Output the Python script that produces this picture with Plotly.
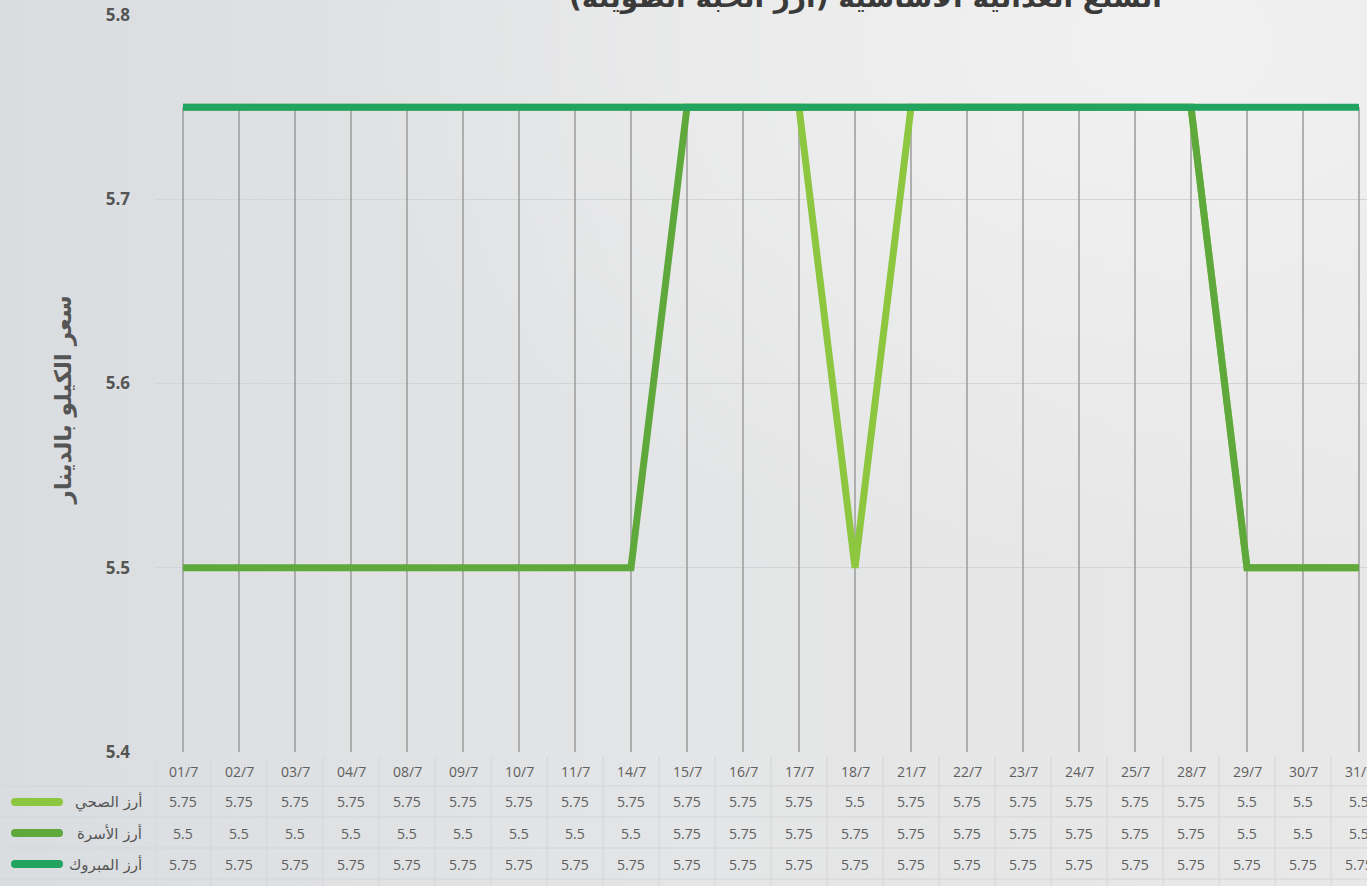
import base64
import plotly.graph_objects as go

dates = ["01/7", "02/7", "03/7", "04/7", "08/7", "09/7", "10/7", "11/7", "14/7", "15/7", "16/7",
         "17/7", "18/7", "21/7", "22/7", "23/7", "24/7", "25/7", "28/7", "29/7", "30/7", "31/7"]
sahi = [5.75, 5.75, 5.75, 5.75, 5.75, 5.75, 5.75, 5.75, 5.75, 5.75, 5.75,
        5.75, 5.5, 5.75, 5.75, 5.75, 5.75, 5.75, 5.75, 5.5, 5.5, 5.5]
usra = [5.5, 5.5, 5.5, 5.5, 5.5, 5.5, 5.5, 5.5, 5.5, 5.75, 5.75,
        5.75, 5.75, 5.75, 5.75, 5.75, 5.75, 5.75, 5.75, 5.5, 5.5, 5.5]
mabrook = [5.75, 5.75, 5.75, 5.75, 5.75, 5.75, 5.75, 5.75, 5.75, 5.75, 5.75,
           5.75, 5.75, 5.75, 5.75, 5.75, 5.75, 5.75, 5.75, 5.75, 5.75, 5.75]
series_names = ["أرز الصحي", "أرز الأسرة", "أرز المبروك"]
series_colors = ["#8dc63f", "#5ea83c", "#22a35f"]
title_text = "السلع الغذائية الأساسية (أرز الحبة الطويلة)"
y_title = "سعر الكيلو بالدينار"
y_ticks = [5.4, 5.5, 5.6, 5.7, 5.8]

series = [sahi, usra, mabrook]
n = len(dates)
xs = list(range(n))

W, H = 1367, 886
mt, mb, ml, mr = 15, 134, 155, 0
ph = H - mt - mb
step = 56.0
x_max = -0.5 + (W - ml - mr) / step

def py2paper(py):
    return (H - mb - py) / ph

def px2paper(px):
    return (px - ml) / (W - ml - mr)

fig = go.Figure()

# background gradient
svg = ('<svg xmlns="http://www.w3.org/2000/svg" width="1367" height="886">'
       '<defs><linearGradient id="g" x1="0" y1="0" x2="1" y2="0">'
       '<stop offset="0" stop-color="#dadde0"/><stop offset="0.5" stop-color="#e4e5e6"/>'
       '<stop offset="1" stop-color="#e8e8e8"/></linearGradient>'
       '<radialGradient id="r" cx="0.85" cy="0.05" r="0.6">'
       '<stop offset="0" stop-color="#f3f3f3" stop-opacity="0.85"/>'
       '<stop offset="1" stop-color="#f3f3f3" stop-opacity="0"/></radialGradient></defs>'
       '<rect width="1367" height="886" fill="url(#g)"/>'
       '<rect width="1367" height="886" fill="url(#r)"/></svg>')
bg_src = "data:image/svg+xml;base64," + base64.b64encode(svg.encode()).decode()

# drop lines
dx, dy = [], []
for i in xs:
    top = max(s[i] for s in series)
    dx += [i, i, None]
    dy += [5.4, top, None]
fig.add_trace(go.Scatter(x=dx, y=dy, mode="lines", line=dict(color="#9b9b9b", width=1.5),
                         hoverinfo="skip", showlegend=False, cliponaxis=False))

for s, name, col in zip(series, series_names, series_colors):
    fig.add_trace(go.Scatter(x=xs, y=s, mode="lines", name=name,
                             line=dict(color=col, width=7), showlegend=False, cliponaxis=False))

annotations = []
shapes = []

# title (clipped at top, as in reference)
annotations.append(dict(text="<b>" + title_text + "</b>", xref="paper", yref="paper",
                        x=px2paper(865), y=1, yshift=-1, yanchor="bottom", xanchor="center",
                        showarrow=False, font=dict(family="DejaVu Sans", size=28, color="#3a3a3a")))
# y title
annotations.append(dict(text="<b>" + y_title + "</b>", xref="paper", yref="paper",
                        x=px2paper(48), y=py2paper(400), textangle=-90, showarrow=False,
                        font=dict(family="DejaVu Sans", size=23, color="#555555")))

row_y = [771, 802, 833, 864]
cell_font = dict(family="Open Sans", size=14, color="#5e5e5e")
for i, d in enumerate(dates):
    annotations.append(dict(text=d, xref="x", yref="paper", x=i, y=py2paper(row_y[0]),
                            xanchor="center", yanchor="middle", showarrow=False, font=cell_font))
    for r, s in enumerate(series):
        v = s[i]
        annotations.append(dict(text=("%g" % v), xref="x", yref="paper", x=i,
                                y=py2paper(row_y[r + 1]), xanchor="center", yanchor="middle",
                                showarrow=False, font=cell_font))

# table borders
grid_col = "#d4d5d6"
for by in [786, 817, 848, 879]:
    shapes.append(dict(type="line", xref="paper", yref="paper", x0=px2paper(0), x1=1,
                       y0=py2paper(by), y1=py2paper(by), line=dict(color=grid_col, width=1)))
for i in range(-1, n):
    shapes.append(dict(type="line", xref="x", yref="paper", x0=i + 0.5, x1=i + 0.5,
                       y0=py2paper(757), y1=py2paper(886), line=dict(color=grid_col, width=1)))

# legend keys
for r, (name, col) in enumerate(zip(series_names, series_colors)):
    yy = py2paper(row_y[r + 1])
    shapes.append(dict(type="line", xref="paper", yref="paper", x0=px2paper(15), x1=px2paper(59),
                       y0=yy, y1=yy, line=dict(color=col, width=8)))
    for cx in (15, 59):
        shapes.append(dict(type="circle", xref="paper", yref="paper",
                           x0=px2paper(cx - 4), x1=px2paper(cx + 4),
                           y0=py2paper(row_y[r + 1] + 4), y1=py2paper(row_y[r + 1] - 4),
                           fillcolor=col, line=dict(width=0)))
    annotations.append(dict(text=name, xref="paper", yref="paper", x=px2paper(144), y=yy,
                            xanchor="right", yanchor="middle", showarrow=False,
                            font=dict(family="DejaVu Sans", size=15, color="#555555")))

fig.update_layout(
    width=W, height=H,
    margin=dict(t=mt, b=mb, l=ml, r=mr),
    paper_bgcolor="#e6e7e8", plot_bgcolor="rgba(0,0,0,0)",
    showlegend=False,
    images=[dict(source=bg_src, xref="paper", yref="paper", x=px2paper(0), y=py2paper(0),
                 sizex=W / (W - ml - mr), sizey=H / ph, xanchor="left", yanchor="top",
                 sizing="stretch", layer="below")],
    xaxis=dict(range=[-0.5, x_max], showgrid=False, zeroline=False, showticklabels=False,
               showline=False, ticks=""),
    yaxis=dict(range=[5.4, 5.8], tickvals=y_ticks, ticktext=["%.1f" % t for t in y_ticks],
               showgrid=True, gridcolor="#d3d4d5", gridwidth=1, zeroline=False,
               ticklabelstandoff=24, ticks="",
               tickfont=dict(family="Open Sans", size=17, color="#555555", weight="bold")),
    annotations=annotations, shapes=shapes,
)

fig.write_html("out.html", config={"displayModeBar": False},
               post_script="document.body.style.margin='0';")
